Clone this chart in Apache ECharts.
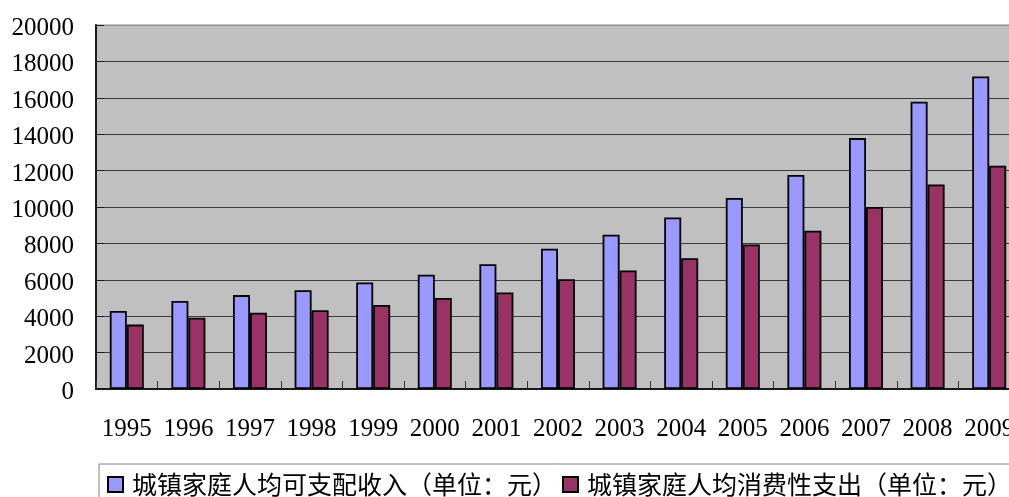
<!DOCTYPE html>
<html>
<head>
<meta charset="utf-8">
<script src="https://cdn.jsdelivr.net/npm/echarts@6/dist/echarts.min.js"></script>
<style>
html,body{margin:0;padding:0;background:#fff;overflow:hidden;width:1009px;height:497px;}
#chart{width:1100px;height:497px;}
</style>
</head>
<body>
<div id="chart"></div>
<script>
var years = ['1995','1996','1997','1998','1999','2000','2001','2002','2003','2004','2005','2006','2007','2008','2009'];
var incomeName = '城镇家庭人均可支配收入（单位：元）';
var spendName = '城镇家庭人均消费性支出（单位：元）';
var income = [4283, 4839, 5160, 5425, 5854, 6280, 6860, 7703, 8472, 9422, 10493, 11759, 13786, 15781, 17175];
var spend = [3538, 3920, 4186, 4332, 4616, 4998, 5309, 6030, 6511, 7182, 7943, 8697, 9998, 11243, 12265];
var yTicks = [0, 2000, 4000, 6000, 8000, 10000, 12000, 14000, 16000, 18000, 20000];

var serif = '"Liberation Serif", "DejaVu Serif", serif';
var cjk = '"Noto Sans CJK SC", "Noto Sans CJK JP", sans-serif';

var gridColors = yTicks.map(function (v, i) { return i === yTicks.length - 1 ? '#8c8c8c' : '#3a3a3a'; });

var chart = echarts.init(document.getElementById('chart'), null, {renderer: 'canvas'});
chart.setOption({
  animation: false,
  backgroundColor: '#ffffff',
  grid: {
    left: 96, right: 80, top: 25, bottom: 108,
    show: true, backgroundColor: '#c0c0c0', borderColor: '#8c8c8c', borderWidth: 1,
    containLabel: false
  },
  legend: {
    left: 99, top: 464,
    orient: 'horizontal',
    width: 990,
    padding: [8, 8, 8, 8],
    itemGap: 5,
    itemWidth: 15, itemHeight: 15,
    icon: 'rect',
    borderColor: '#808080', borderWidth: 1,
    backgroundColor: '#ffffff',
    textStyle: { fontFamily: cjk, fontSize: 25, color: '#000', lineHeight: 25, padding: [0, 0, 0, 4] },
    data: [incomeName, spendName]
  },
  xAxis: {
    type: 'category',
    data: years,
    boundaryGap: true,
    axisLine: { show: true, lineStyle: { color: '#1a1a1a', width: 2 } },
    axisTick: { show: true, inside: true, length: 8, lineStyle: { color: '#333', width: 1 } },
    axisLabel: { fontFamily: serif, fontSize: 25, color: '#000', margin: 28, interval: 0 },
    splitLine: { show: false }
  },
  yAxis: {
    type: 'value',
    min: 0, max: 20000, interval: 2000,
    axisLine: { show: true, lineStyle: { color: '#1a1a1a', width: 2 } },
    axisTick: { show: true, inside: true, length: 8, lineStyle: { color: '#1a1a1a', width: 1 } },
    axisLabel: {
      fontFamily: serif, fontSize: 25, color: '#000', margin: 22,
      formatter: function (v) { return '{v|' + v + '}'; },
      rich: { v: { fontFamily: serif, fontSize: 25, color: '#000', padding: [7, 0, 0, 0] } }
    },
    splitLine: { show: true, lineStyle: { color: gridColors, width: 1 } }
  },
  series: [
    {
      name: incomeName, type: 'bar', data: income,
      barWidth: 17, barGap: '0%',
      itemStyle: { color: '#9999ff', borderColor: '#000', borderWidth: 1.8 }
    },
    {
      name: spendName, type: 'bar', data: spend,
      barWidth: 17, barGap: '0%',
      itemStyle: { color: '#993366', borderColor: '#000', borderWidth: 1.8 }
    }
  ]
});
</script>
</body>
</html>
